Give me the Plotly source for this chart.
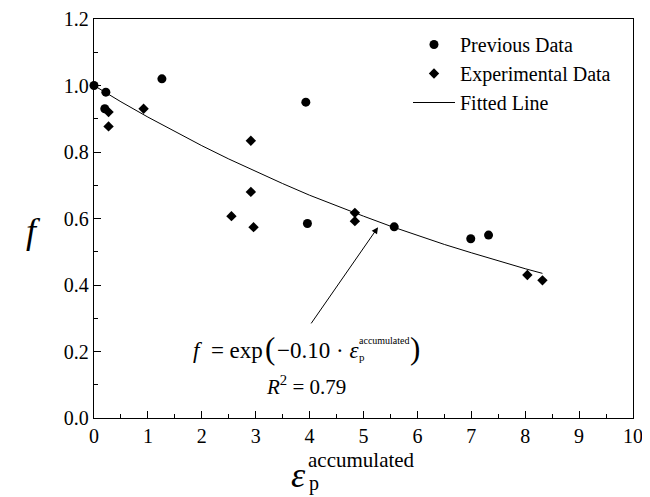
import plotly.graph_objects as go

# ---- data ----
prev_x = [0.0, 0.22, 0.20, 1.26, 3.93, 3.96, 5.57, 6.99, 7.32]
prev_y = [1.00, 0.98, 0.93, 1.02, 0.95, 0.585, 0.575, 0.539, 0.550]

exp_x = [0.27, 0.27, 0.92, 2.91, 2.91, 2.55, 2.96, 4.84, 4.84, 8.04, 8.32]
exp_y = [0.920, 0.877, 0.930, 0.834, 0.680, 0.607, 0.574, 0.617, 0.592, 0.430, 0.414]

fit_x = [0.0, 0.5, 1.0, 1.5, 2.0, 2.5, 3.0, 3.5, 4.0, 4.5, 5.0, 5.5, 6.0, 6.5, 7.0, 7.5, 8.0, 8.32]
fit_y = [1.000, 0.951, 0.905, 0.861, 0.819, 0.779, 0.741, 0.705, 0.670, 0.638,
         0.607, 0.577, 0.549, 0.522, 0.497, 0.472, 0.449, 0.435]

legend_names = ["Previous Data", "Experimental Data", "Fitted Line"]

FONT = "Liberation Serif"

# page offset from default body margin
OFF = 8
# plot area in reference-page pixels
L, R, T, B = 94, 633, 19, 418
W, H = 650 - OFF, 497 - OFF


def px(x):
    return (x - L) / (R - L)


def py(y):
    return (B - y) / (B - T)


fig = go.Figure()
fig.add_trace(go.Scatter(x=prev_x, y=prev_y, mode="markers", name=legend_names[0],
                         marker=dict(symbol="circle", size=9, color="black"),
                         cliponaxis=False))
fig.add_trace(go.Scatter(x=exp_x, y=exp_y, mode="markers", name=legend_names[1],
                         marker=dict(symbol="diamond", size=8, color="black"),
                         cliponaxis=False))
fig.add_trace(go.Scatter(x=fit_x, y=fit_y, mode="lines", name=legend_names[2],
                         line=dict(color="black", width=1)))

axis_common = dict(
    showline=True, linecolor="black", linewidth=1.3, mirror=True,
    ticks="inside", ticklen=7, tickwidth=1.3, tickcolor="black",
    showgrid=False, zeroline=False, automargin=False,
    tickfont=dict(family=FONT, size=20, color="black"),
)

fig.update_xaxes(range=[0, 10], dtick=1, tick0=0,
                 minor=dict(dtick=0.5, ticks="inside", ticklen=3.5, tickwidth=1.2, tickcolor="black"),
                 **axis_common)
fig.update_yaxes(range=[0, 1.2], dtick=0.2, tick0=0, tickformat=".1f",
                 minor=dict(dtick=0.1, ticks="inside", ticklen=3.5, tickwidth=1.2, tickcolor="black"),
                 **axis_common)


def txt(s, x, y, size, anchor="center"):
    return dict(text=s, xref="paper", yref="paper", x=px(x), y=py(y),
                xanchor=anchor, yanchor="middle", showarrow=False, borderpad=0,
                font=dict(family=FONT, size=size, color="black"))


ann = []
# y-axis title
ann.append(txt("<i>f</i>", 33, 231, 36))
# x-axis title: epsilon with stacked sub/sup
ann.append(txt("<i>ε</i>", 298, 475, 36))
ann.append(txt("accumulated", 307, 460, 21, "left"))
ann.append(txt("p", 308, 484, 20, "left"))

# formula
ann.append(txt("<i>f</i>\u00a0\u00a0=\u00a0exp", 264, 350, 23, "right"))
ann.append(txt("(", 270, 348, 31))
ann.append(txt("−0.10 · <i>ε</i>", 276, 350, 23, "left"))
ann.append(txt("accumulated", 358, 340, 10, "left"))
ann.append(txt("p", 358, 357, 11, "left"))
ann.append(txt(")", 415, 348, 31))
ann.append(txt("<i>R</i><sup>2</sup> = 0.79", 306, 385, 21))
# arrow
ann.append(dict(x=5.27, y=0.574, ax=4.01, ay=0.28, xref="x", yref="y", axref="x", ayref="y",
                text="", showarrow=True, arrowhead=2, arrowsize=1.3, arrowwidth=1,
                arrowcolor="black", standoff=0))

fig.update_layout(
    width=W, height=H,
    margin=dict(l=L - OFF, r=650 - R, t=T - OFF, b=497 - B, autoexpand=False),
    paper_bgcolor="white", plot_bgcolor="white",
    font=dict(family=FONT, size=20, color="black"),
    showlegend=True,
    legend=dict(x=px(408), y=py(25), xanchor="left", yanchor="top",
                bgcolor="rgba(0,0,0,0)", font=dict(family=FONT, size=20, color="black"),
                itemwidth=42, tracegroupgap=0),
    annotations=ann,
)

fig.write_html("out.html")
